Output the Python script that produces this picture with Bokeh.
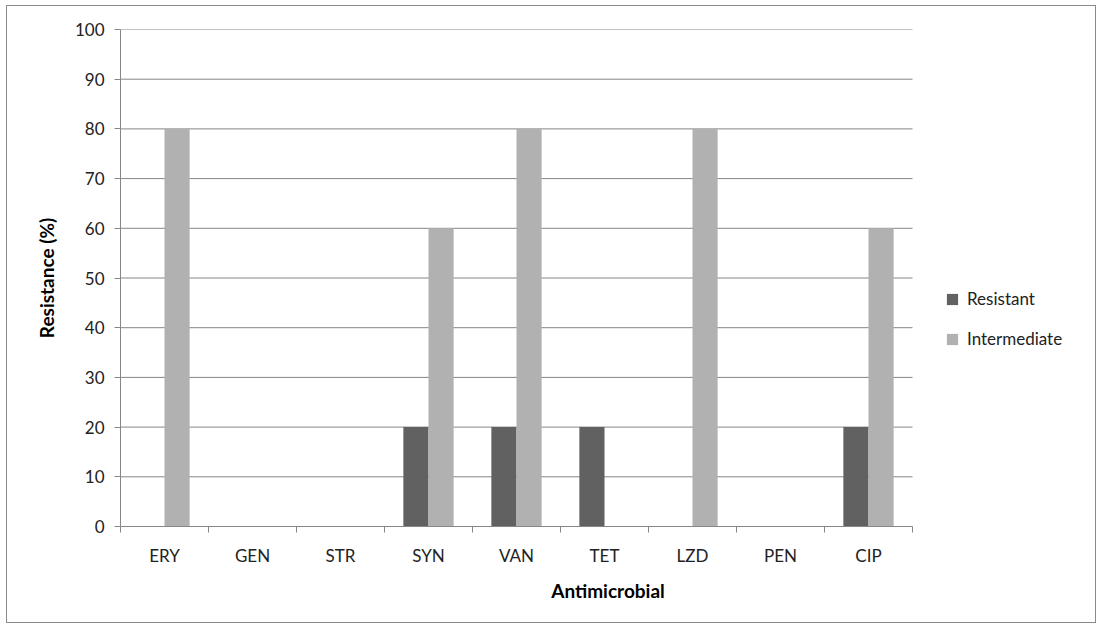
import numpy as np
from bokeh.plotting import figure
from bokeh.models import (Range1d, LinearAxis, FixedTicker, Legend, LegendItem, ColumnDataSource)
from bokeh.embed import file_html
from bokeh.resources import INLINE

categories = ["ERY", "GEN", "STR", "SYN", "VAN", "TET", "LZD", "PEN", "CIP"]
resistant = [0, 0, 0, 20, 20, 20, 0, 0, 20]
intermediate = [80, 0, 0, 60, 80, 0, 80, 0, 60]
series_names = ["Resistant", "Intermediate"]
y_ticks = [0, 10, 20, 30, 40, 50, 60, 70, 80, 90, 100]

FONT = "Lato"
GRID = "#868686"
DARK = "#616161"
LIGHT = "#b1b1b1"

n = len(categories)
centers = np.arange(n) + 0.5
bw = 1 / 3.5

# layout (pixels)
W, H = 1090, 618
LEFT, RIGHT, TOP, BOTTOM = 113, 2, 23, 98
PLOT_W = 792                      # width of the bar area in pixels
frame_w = W - LEFT - RIGHT
x_end = n * frame_w / PLOT_W      # frame extends right to hold the legend

src = ColumnDataSource(dict(xr=centers - bw / 2, xi=centers + bw / 2,
                            res=resistant, inter=intermediate))

p = figure(width=W, height=H, x_range=Range1d(0, x_end),
           y_range=Range1d(0, 100), output_backend="svg", toolbar_location=None,
           x_axis_location=None, min_border_left=LEFT, min_border_right=RIGHT,
           min_border_top=TOP, min_border_bottom=BOTTOM)
p.styles = {"border": "1px solid #8a8a8a", "margin-left": "6px", "margin-top": "5px"}
p.outline_line_color = None
p.xgrid.grid_line_color = None
p.ygrid.grid_line_color = None

# horizontal gridlines limited to the bar area
p.segment(x0=0, x1=n, y0=y_ticks[1:], y1=y_ticks[1:], line_color=GRID, line_width=1)

r1 = p.vbar(x="xr", top="res", width=bw, source=src, fill_color=DARK, line_color=None)
r2 = p.vbar(x="xi", top="inter", width=bw, source=src, fill_color=LIGHT, line_color=None)

# y axis
ya = p.yaxis[0]
ya.ticker = FixedTicker(ticks=y_ticks)
ya.axis_label = "Resistance (%)"
ya.axis_label_text_font = FONT
ya.axis_label_text_font_style = "bold"
ya.axis_label_text_font_size = "19px"
ya.axis_label_text_color = "#000000"
ya.axis_label_standoff = 14
ya.major_label_text_font = FONT
ya.major_label_text_font_size = "17px"
ya.major_label_text_color = "#222222"
ya.major_label_standoff = 10
ya.axis_line_color = GRID
ya.major_tick_line_color = GRID
ya.major_tick_out = 6
ya.major_tick_in = 0
ya.minor_tick_line_color = None

# x tick marks between categories
bounds = list(range(n + 1))
tick_axis = LinearAxis(ticker=FixedTicker(ticks=bounds), bounds=(0, n),
                       major_label_overrides={b: "" for b in bounds},
                       major_label_text_font_size="1px", major_label_standoff=0,
                       axis_line_color=GRID, major_tick_line_color=GRID,
                       major_tick_out=6, major_tick_in=0, minor_tick_line_color=None)
p.add_layout(tick_axis, "below")

cat_axis = LinearAxis(ticker=FixedTicker(ticks=list(centers)), bounds=(0, n),
                      major_label_overrides={float(c): lab for c, lab in zip(centers, categories)},
                      axis_line_color=None, major_tick_line_color=None, minor_tick_line_color=None,
                      major_label_text_font=FONT, major_label_text_font_size="17px",
                      major_label_text_color="#222222", major_label_standoff=6,
                      axis_label="Antimicrobial", axis_label_text_font=FONT,
                      axis_label_text_font_style="bold", axis_label_text_font_size="19px",
                      axis_label_text_color="#000000", axis_label_standoff=10)
p.add_layout(cat_axis, "below")

legend = Legend(items=[LegendItem(label=series_names[0], renderers=[r1]),
                       LegendItem(label=series_names[1], renderers=[r2])],
                location=(825, 177), padding=0, margin=0, border_line_color=None,
                background_fill_alpha=0, glyph_width=14, glyph_height=14,
                label_height=14, spacing=19, label_standoff=8,
                label_text_font=FONT, label_text_font_size="17px", label_text_color="#222222")
p.add_layout(legend, "center")

open("out.html", "w").write(file_html(p, INLINE))
